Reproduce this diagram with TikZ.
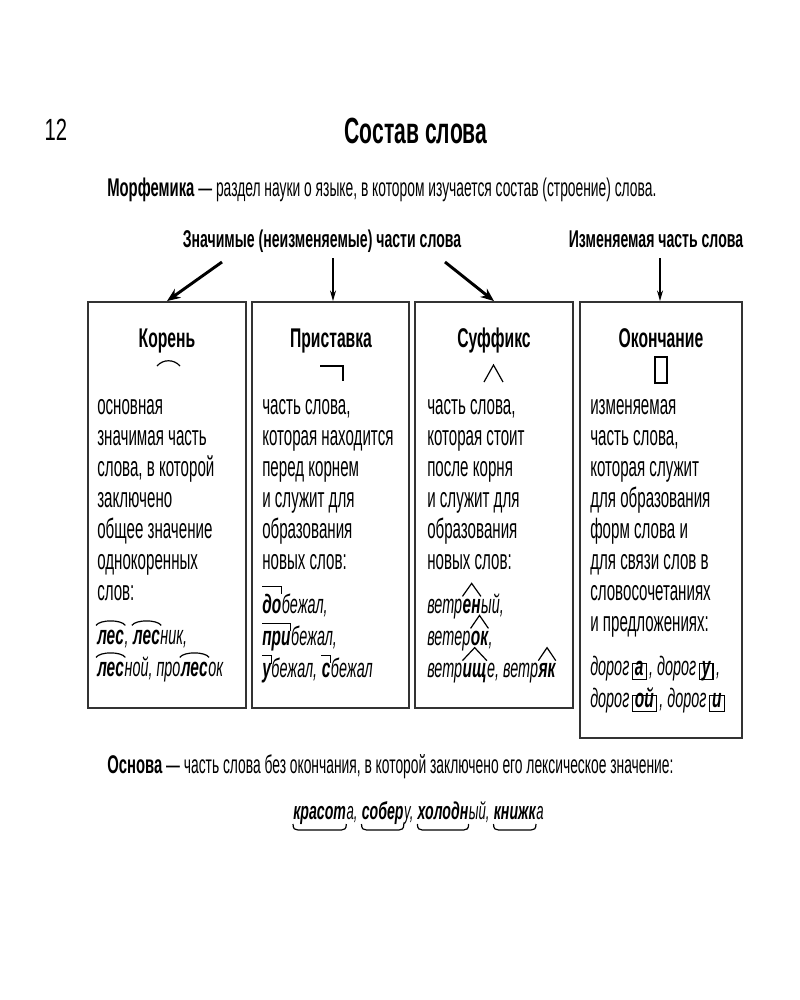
\documentclass[tikz,border=0pt]{standalone}
\usepackage{fontspec}
\setmainfont{Liberation Sans}[UprightFeatures={FakeStretch=0.54}, ItalicFeatures={FakeStretch=0.54}, BoldFeatures={FakeStretch=0.58}, BoldItalicFeatures={FakeStretch=0.58}]
\newfontfamily\pagefont{Liberation Sans}[FakeStretch=0.66]
\usetikzlibrary{arrows.meta,fit}
\newcommand\bodyfs{\fontsize{21}{24}\selectfont}
\newcommand\linefs{\fontsize{19.2}{22}\selectfont}
\newcommand\exfs{\fontsize{20}{23}\selectfont}
\newcommand\stemfs{\fontsize{18.3}{22}\selectfont}
\newcommand\headfs{\fontsize{20.3}{24}\selectfont\bfseries}
\newcommand\labelfs{\fontsize{18.2}{22}\selectfont\bfseries}
\newcommand\titlefs{\fontsize{27.3}{32}\selectfont\bfseries}
\newcommand\pagefs{\fontsize{23}{26}\selectfont\pagefont}
\definecolor{boxline}{HTML}{333333}
\tikzset{
  body/.style={inner sep=0pt, anchor=base west, font=\bodyfs},
  line/.style={inner sep=0pt, anchor=base west, font=\linefs},
  ex/.style={inner sep=0pt, anchor=base west, font=\exfs\itshape},
  exb/.style={inner sep=0pt, anchor=base west, font=\exfs\bfseries\itshape},
  st/.style={inner sep=0pt, anchor=base west, font=\stemfs\itshape},
  stb/.style={inner sep=0pt, anchor=base west, font=\stemfs\bfseries\itshape},
  endbox/.style={exb, draw, line width=1pt, inner xsep=2pt, inner ysep=1.2pt, text height=0.74em, text depth=0.24em},
  mk/.style={line width=0.9pt},
  head/.style={inner sep=0pt, anchor=base, font=\headfs},
  lab/.style={inner sep=0pt, anchor=base, font=\labelfs},
  boxst/.style={draw=boxline, line width=1.4pt, inner sep=0pt},
  thickarr/.style={line width=2.2pt, -{Stealth[length=10pt,width=8pt]}},
  thinarr/.style={line width=1pt, -{Stealth[length=8pt,width=4.5pt]}},
}
\newcommand\wsp{\ \null}
\newcommand\rootarc[1]{\draw[mk] ([shift={(-1,-4)}]#1.north west) .. controls +(4,-6) and +(-4,-6) .. ([shift={(1,-4)}]#1.north east);}
\newcommand\prefmark[1]{\draw[mk] ([shift={(0,-7)}]#1.north west) -- ([shift={(0,-7)}]#1.north east) -- ([shift={(0,1)}]#1.north east);}
\newcommand\sufmark[1]{\draw[mk] ([shift={(0,-2)}]#1.north west) -- ([shift={(0,-15)}]#1.north) -- ([shift={(0,-2)}]#1.north east);}
\newcommand\stemmark[1]{\draw[mk] ([shift={(0,5)}]#1.base west) .. controls +(0,5) and +(-3,0) .. ([shift={(5,11)}]#1.base west) -- ([shift={(-5,11)}]#1.base east) .. controls +(3,0) and +(0,5) .. ([shift={(0,5)}]#1.base east);}
\begin{document}
\begin{tikzpicture}[x=0.75pt,y=-0.75pt]
\useasboundingbox (0,0) rectangle (800,1000);
\fill[white] (0,0) rectangle (800,1000);

% top texts
\node[inner sep=0pt, anchor=base, font=\pagefs] (pg) at (56,140) {12};
\node[inner sep=0pt, anchor=base, font=\titlefs] (title) at (416,143) {Состав слова};
\node[line] (morf) at (107,196) {\textbf{Морфемика} — раздел науки о языке, в котором изучается состав (строение) слова.};

\node[lab] (zn) at (322,247) {Значимые (неизменяемые) части слова};
\node[lab] (izm) at (656,247) {Изменяемая часть слова};

% boxes
\node[boxst, fit={(88,302) (246,708)}] (b1) {};
\node[boxst, fit={(252,302) (409,708)}] (b2) {};
\node[boxst, fit={(415,302) (573,708)}] (b3) {};
\node[boxst, fit={(580,302) (742,738)}] (b4) {};

% arrows
\coordinate (a1) at (222,262);
\coordinate (a2) at (333,258);
\coordinate (a3) at (445,262);
\coordinate (a4) at (660,258);
\draw[thickarr] (a1) -- (b1.north);
\draw[thinarr] (a2) -- (a2 |- b2.north);
\draw[thickarr] (a3) -- (b3.north);
\draw[thinarr] (a4) -- (a4 |- b4.north);

% headings
\node[head] (h1) at (167,347) {Корень};
\node[head] (h2) at (331,347) {Приставка};
\node[head] (h3) at (494,347) {Суффикс};
\node[head] (h4) at (661,347) {Окончание};

% heading symbols
\draw[mk] (157,366) .. controls (163,359) and (174,359) .. (180,366);
\draw[mk] (320,366) -- (343,366) -- (343,381);
\draw[mk] (484,382) -- (493.5,365) -- (503,382);
\draw[line width=0.8pt] (655,357) rectangle (667,383);

% box texts
\foreach \t [count=\i from 0] in {основная, значимая часть, {слова, в которой}, заключено, общее значение, однокоренных, слов:}
  \node[body] (p\i) at (97,{414+31*\i}) {\t};
\foreach \t [count=\i from 0] in {{часть слова,}, которая находится, перед корнем, и служит для, образования, новых слов:}
  \node[body] (q\i) at (262,{414+31*\i}) {\t};
\foreach \t [count=\i from 0] in {{часть слова,}, которая стоит, после корня, и служит для, образования, новых слов:}
  \node[body] (r\i) at (427,{414+31*\i}) {\t};
\foreach \t [count=\i from 0] in {изменяемая, {часть слова,}, которая служит, для образования, форм слова и, для связи слов в, словосочетаниях, и предложениях:}
  \node[body] (s\i) at (590,{414+31*\i}) {\t};

% box 1 examples
\node[exb] (k1) at (97,644) {лес};
\node[ex] (k2) at (k1.base east) {,\wsp};
\node[exb] (k3) at (k2.base east) {лес};
\node[ex] (k4) at (k3.base east) {ник,};
\node[exb] (k5) at (97,676) {лес};
\node[ex] (k6) at (k5.base east) {ной,\ про};
\node[exb] (k7) at (k6.base east) {лес};
\node[ex] (k8) at (k7.base east) {ок};
\rootarc{k1}\rootarc{k3}\rootarc{k5}\rootarc{k7}

% box 2 examples
\node[exb] (m1) at (262,613) {до};
\node[ex] (m2) at (m1.base east) {бежал,};
\node[exb] (m3) at (262,645) {при};
\node[ex] (m4) at (m3.base east) {бежал,};
\node[exb] (m5) at (262,677) {у};
\node[ex] (m6) at (m5.base east) {бежал,\wsp};
\node[exb] (m7) at (m6.base east) {с};
\node[ex] (m8) at (m7.base east) {бежал};
\prefmark{m1}\prefmark{m3}\prefmark{m5}\prefmark{m7}

% box 3 examples
\node[ex] (n1) at (427,613) {ветр};
\node[exb] (n2) at (n1.base east) {ен};
\node[ex] (n3) at (n2.base east) {ый,};
\node[ex] (n4) at (427,645) {ветер};
\node[exb] (n5) at (n4.base east) {ок};
\node[ex] (n6) at (n5.base east) {,};
\node[ex] (n7) at (427,677) {ветр};
\node[exb] (n8) at (n7.base east) {ищ};
\node[ex] (n9) at (n8.base east) {е,\ ветр};
\node[exb] (n10) at (n9.base east) {як};
\sufmark{n2}\sufmark{n5}\sufmark{n8}\sufmark{n10}

% box 4 examples
\node[ex] (o1) at (590,675) {дорог};
\node[endbox] (o2) at ([xshift=1.5pt]o1.base east) {а};
\node[ex] (o3) at ([xshift=1.5pt]o2.base east) {,\ дорог};
\node[endbox] (o4) at ([xshift=1.5pt]o3.base east) {у};
\node[ex] (o5) at ([xshift=1.5pt]o4.base east) {,};
\node[ex] (o6) at (590,707) {дорог};
\node[endbox] (o7) at ([xshift=1.5pt]o6.base east) {ой};
\node[ex] (o8) at ([xshift=1.5pt]o7.base east) {,\ дорог};
\node[endbox] (o9) at ([xshift=1.5pt]o8.base east) {и};

% bottom
\node[line] (osn) at (107,773) {\textbf{Основа} — часть слова без окончания, в которой заключено его лексическое значение:};
\node[stb] (t1) at (293,819) {красот};
\node[st] (t2) at (t1.base east) {а,\wsp};
\node[stb] (t3) at (t2.base east) {собер};
\node[st] (t4) at (t3.base east) {у,\wsp};
\node[stb] (t5) at (t4.base east) {холодн};
\node[st] (t6) at (t5.base east) {ый,\wsp};
\node[stb] (t7) at (t6.base east) {книжк};
\node[st] (t8) at (t7.base east) {а};
\stemmark{t1}\stemmark{t3}\stemmark{t5}\stemmark{t7}
\end{tikzpicture}
\end{document}
